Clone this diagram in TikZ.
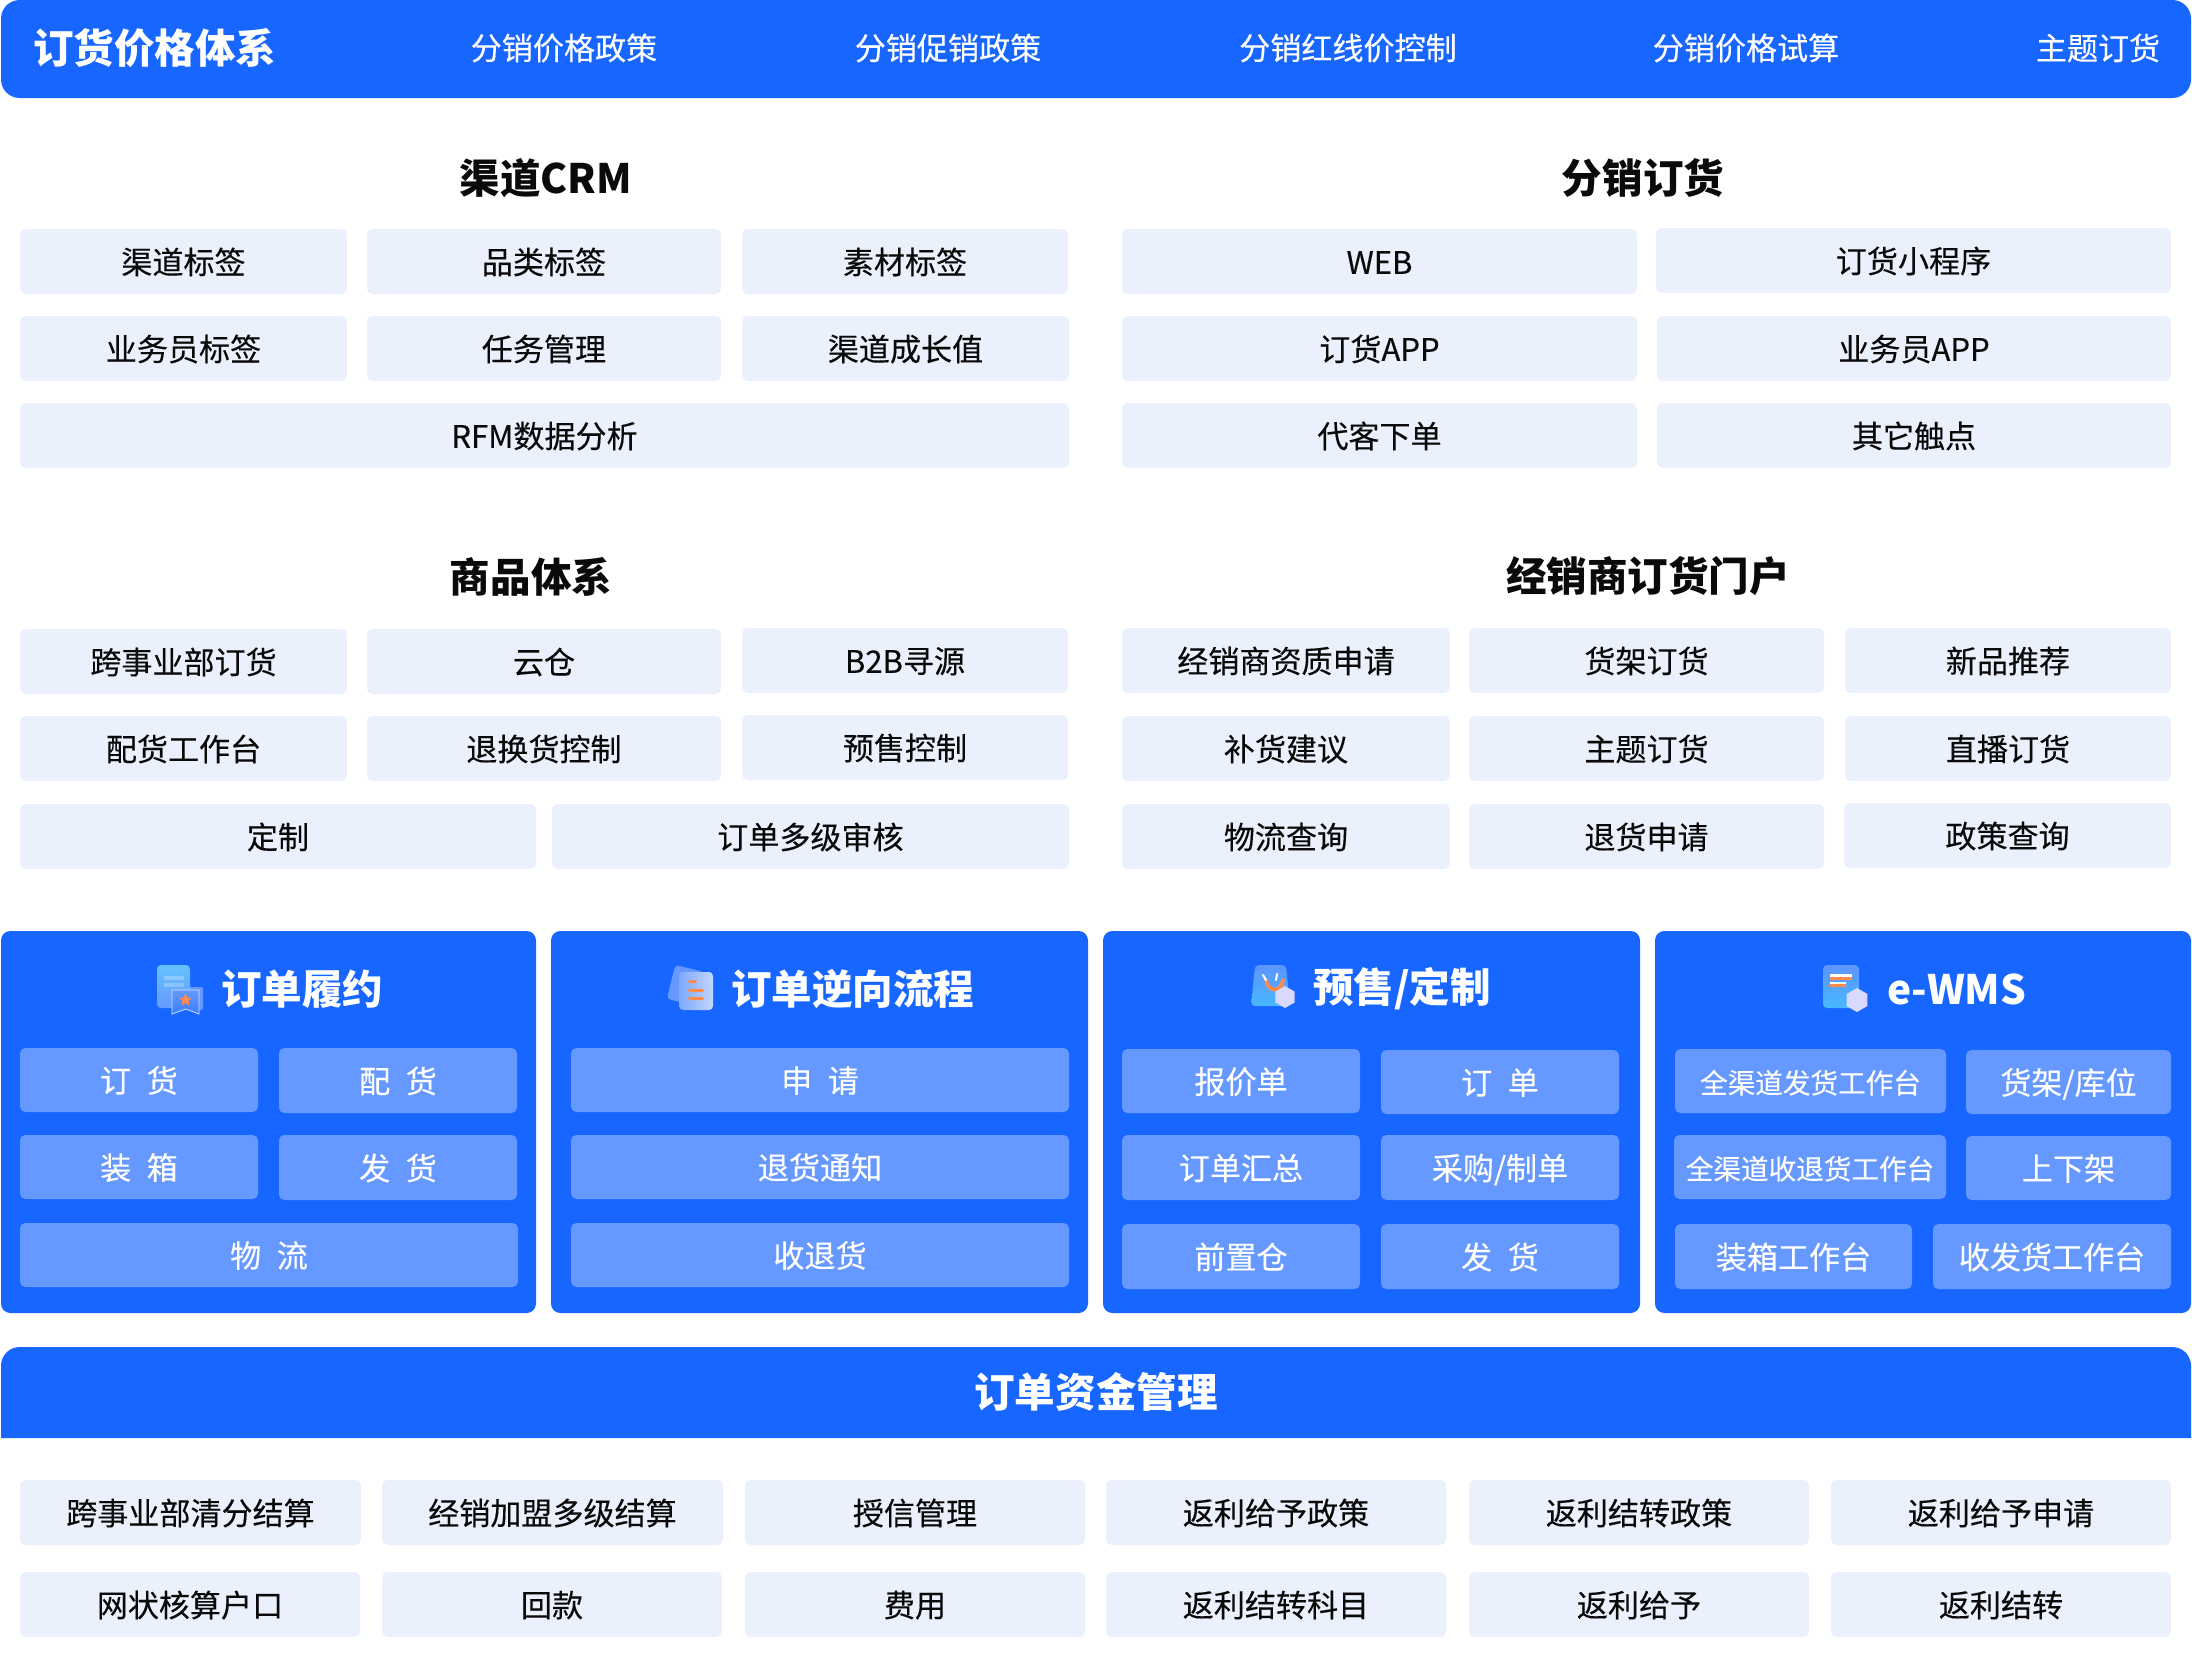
\documentclass[tikz,border=0pt]{standalone}
\usepackage{fontspec}
\setmainfont{Noto Sans CJK SC}
\newfontfamily\medfont{Noto Sans CJK SC}[FakeBold=0.25]
\usetikzlibrary{shapes.geometric}
\definecolor{brand}{HTML}{1766FF}
\definecolor{pale}{HTML}{EBF1FC}
\definecolor{mid}{HTML}{6699FF}
\definecolor{ink}{HTML}{0A0A0A}
\definecolor{orangeb}{HTML}{FF8A4C}
\tikzset{
  boxbase/.style={rectangle,rounded corners=4pt,inner sep=0pt,align=center,text height=21.5pt,text depth=3pt},
  palebox/.style={boxbase,fill=pale,text=ink,font=\medfont\fontsize{23.3}{28}\selectfont},
  midbox/.style={boxbase,fill=mid,text=white,font=\medfont\fontsize{23.3}{28}\selectfont},
  midsmall/.style={midbox,font=\medfont\fontsize{20.7}{26}\selectfont},
  sectitle/.style={inner sep=0pt,text=ink,font=\fontsize{30.4}{36}\selectfont\bfseries},
  paneltitle/.style={inner sep=0pt,anchor=west,text=white,font=\fontsize{30.4}{36}\selectfont\bfseries},
  toptext/.style={inner sep=0pt,text=white,font=\medfont\fontsize{23.3}{28}\selectfont},
  panel/.style={fill=brand,rounded corners=7pt},
}
\newcommand{\bx}[7]{\node[#1,minimum width={(#5-#3)*0.75pt},minimum height={(#6-#4)*0.75pt}] (#2) at ({(#3+#5)/2},{(#4+#6)/2}) {#7};}
\begin{document}
\begin{tikzpicture}[x=0.75pt,y=-0.75pt]
\useasboundingbox (0,0) rectangle (2192,1679);
% top bar
\fill[brand,rounded corners=14pt] (1,0) rectangle (2191,98);
\node[inner sep=0pt,anchor=west,text=white,font=\fontsize{30.4}{36}\selectfont\bfseries] (ttop) at (33,48) {订货价格体系};
\node[toptext] (t1) at (564,48) {分销价格政策};
\node[toptext] (t2) at (948,48) {分销促销政策};
\node[toptext] (t3) at (1348,48) {分销红线价控制};
\node[toptext] (t4) at (1746,48) {分销价格试算};
\node[toptext] (t5) at (2098,48) {主题订货};
% section titles
\node[sectitle] (s1) at (546,178) {渠道CRM};
\node[sectitle] (s2) at (1643,178) {分销订货};
\node[sectitle] (s3) at (531,576.5) {商品体系};
\node[sectitle] (s4) at (1648,576.5) {经销商订货门户};
% CRM
\bx{palebox}{a1}{20}{229}{347}{294}{渠道标签}
\bx{palebox}{a2}{367}{229}{721}{294}{品类标签}
\bx{palebox}{a3}{742}{229}{1068}{294}{素材标签}
\bx{palebox}{a4}{20}{316}{347}{381}{业务员标签}
\bx{palebox}{a5}{367}{316}{721}{381}{任务管理}
\bx{palebox}{a6}{742}{316}{1069}{381}{渠道成长值}
\bx{palebox}{a7}{20}{403}{1069}{468}{RFM数据分析}
% distribution
\bx{palebox}{b1}{1122}{229}{1637}{294}{WEB}
\bx{palebox}{b2}{1656}{228}{2171}{293}{订货小程序}
\bx{palebox}{b3}{1122}{316}{1637}{381}{订货APP}
\bx{palebox}{b4}{1657}{316}{2171}{381}{业务员APP}
\bx{palebox}{b5}{1122}{403}{1637}{468}{代客下单}
\bx{palebox}{b6}{1657}{403}{2171}{468}{其它触点}
% goods
\bx{palebox}{c1}{20}{629}{347}{694}{跨事业部订货}
\bx{palebox}{c2}{367}{629}{721}{694}{云仓}
\bx{palebox}{c3}{742}{628}{1068}{693}{B2B寻源}
\bx{palebox}{c4}{20}{716}{347}{781}{配货工作台}
\bx{palebox}{c5}{367}{716}{721}{781}{退换货控制}
\bx{palebox}{c6}{742}{715}{1068}{780}{预售控制}
\bx{palebox}{c7}{20}{804}{536}{869}{定制}
\bx{palebox}{c8}{552}{804}{1069}{869}{订单多级审核}
% dealer
\bx{palebox}{d1}{1122}{628}{1450}{693}{经销商资质申请}
\bx{palebox}{d2}{1469}{628}{1824}{693}{货架订货}
\bx{palebox}{d3}{1845}{628}{2171}{693}{新品推荐}
\bx{palebox}{d4}{1122}{716}{1450}{781}{补货建议}
\bx{palebox}{d5}{1469}{716}{1824}{781}{主题订货}
\bx{palebox}{d6}{1845}{716}{2171}{781}{直播订货}
\bx{palebox}{d7}{1122}{804}{1450}{869}{物流查询}
\bx{palebox}{d8}{1469}{804}{1824}{869}{退货申请}
\bx{palebox}{d9}{1844}{803}{2171}{868}{政策查询}
% panels
\fill[panel] (1,931) rectangle (536,1313);
\fill[panel] (551,931) rectangle (1088,1313);
\fill[panel] (1103,931) rectangle (1640,1313);
\fill[panel] (1655,931) rectangle (2191,1313);
% panel 1
\fill[mid,rounded corners=1.5pt] (180,987) rectangle (203,1010);
\shade[rounded corners=3pt,top color=cyan!60!blue!60,bottom color=mid] (157,965) rectangle (190,1008);
\fill[white,opacity=.25] (164,976) rectangle (184,979.5);
\fill[white,opacity=.25] (164,983) rectangle (184,986.5);
\shade[top color=mid,bottom color=brand!85!white,draw=white!70!mid,line width=.6pt] (172,990) -- (199,990) -- (199,1014) -- (186,1009) -- (172,1014) -- cycle;
\node[star,star points=5,star point ratio=2.2,fill=orangeb,inner sep=0pt,minimum size=10pt] (star1) at (185.5,1000) {};
\node[paneltitle] (p1) at (221,989) {订单履约};
\bx{midbox}{e1}{20}{1048}{258}{1112}{订\hspace{.5em}货}
\bx{midbox}{e2}{279}{1048}{517}{1113}{配\hspace{.5em}货}
\bx{midbox}{e3}{20}{1135}{258}{1199}{装\hspace{.5em}箱}
\bx{midbox}{e4}{279}{1135}{517}{1200}{发\hspace{.5em}货}
\bx{midbox}{e5}{20}{1223}{518}{1287}{物\hspace{.5em}流}
% panel 2
\fill[mid,rotate around={-14:(686,984)}] (671,968) [rounded corners=3pt] rectangle (701,1003);
\shade[rounded corners=3pt,left color=mid!85!white,right color=white!60!mid] (679,972) rectangle (713,1010);
\fill[orangeb,rounded corners=1pt] (688,980) rectangle (697,983);
\fill[orangeb,rounded corners=1pt] (688,989) rectangle (704,992);
\fill[orangeb,rounded corners=1pt] (688,997) rectangle (704,1000);
\node[paneltitle] (p2) at (731,989) {订单逆向流程};
\bx{midbox}{f1}{571}{1048}{1069}{1112}{申\hspace{.5em}请}
\bx{midbox}{f2}{571}{1135}{1069}{1199}{退货通知}
\bx{midbox}{f3}{571}{1223}{1069}{1287}{收退货}
% panel 3
\shade[rounded corners=3pt,top color=mid!90!brand,bottom color=cyan!30!mid] (1255,965) -- (1286,965) -- (1290,1006) -- (1251,1006) -- cycle;
\draw[orangeb,line width=2.8pt] (1266,979) .. controls (1267,993) and (1282,993) .. (1283,979);
\draw[white,line width=1.6pt,line cap=round] (1263,975) -- (1266,980);
\draw[white,line width=1.6pt,line cap=round] (1277,974) -- (1276,980);
\node[regular polygon,regular polygon sides=6,rotate=30,fill=blue!15!white,inner sep=0pt,minimum size=16.5pt] (hx3) at (1285,997) {};
\node[paneltitle] (p3) at (1313,989) {预售/定制};
\bx{midbox}{g1}{1122}{1049}{1360}{1113}{报价单}
\bx{midbox}{g2}{1381}{1050}{1619}{1114}{订\hspace{.5em}单}
\bx{midbox}{g3}{1122}{1135}{1360}{1200}{订单汇总}
\bx{midbox}{g4}{1381}{1135}{1619}{1200}{采购/制单}
\bx{midbox}{g5}{1122}{1224}{1360}{1289}{前置仓}
\bx{midbox}{g6}{1381}{1224}{1619}{1289}{发\hspace{.5em}货}
% panel 4
\shade[rounded corners=3pt,top color=mid!90!brand,bottom color=cyan!30!mid] (1823,965) rectangle (1859,1008);
\fill[white] (1830,974) rectangle (1852,976.5);
\fill[orangeb] (1830,977) rectangle (1852,979.5);
\fill[white] (1830,982) rectangle (1846,984);
\fill[orangeb] (1830,984) rectangle (1846,986.5);
\node[regular polygon,regular polygon sides=6,rotate=30,fill=blue!15!white,inner sep=0pt,minimum size=18pt] (hx4) at (1857,1000) {};
\node[paneltitle] (p4) at (1887,989) {e-WMS};
\bx{midsmall}{h1}{1675}{1049}{1946}{1113}{全渠道发货工作台}
\bx{midbox}{h2}{1966}{1050}{2171}{1114}{货架/库位}
\bx{midsmall}{h3}{1674}{1135}{1946}{1199}{全渠道收退货工作台}
\bx{midbox}{h4}{1966}{1136}{2171}{1200}{上下架}
\bx{midbox}{h5}{1675}{1224}{1912}{1289}{装箱工作台}
\bx{midbox}{h6}{1933}{1224}{2171}{1289}{收发货工作台}
% bottom bar
\fill[brand] (1,1438) -- (1,1380) [rounded corners=14pt] -- (1,1347) -- (2191,1347) [sharp corners] -- (2191,1438) -- cycle;
\node[inner sep=0pt,text=white,font=\fontsize{30.4}{36}\selectfont\bfseries] (money) at (1096,1392) {订单资金管理};
% bottom grid
\bx{palebox}{k1}{20}{1480}{361}{1545}{跨事业部清分结算}
\bx{palebox}{k2}{382}{1480}{723}{1545}{经销加盟多级结算}
\bx{palebox}{k3}{745}{1480}{1085}{1545}{授信管理}
\bx{palebox}{k4}{1106}{1480}{1446}{1545}{返利给予政策}
\bx{palebox}{k5}{1469}{1480}{1809}{1545}{返利结转政策}
\bx{palebox}{k6}{1831}{1480}{2171}{1545}{返利给予申请}
\bx{palebox}{k7}{20}{1572}{360}{1637}{网状核算户口}
\bx{palebox}{k8}{382}{1572}{722}{1637}{回款}
\bx{palebox}{k9}{745}{1572}{1085}{1637}{费用}
\bx{palebox}{k10}{1106}{1572}{1446}{1637}{返利结转科目}
\bx{palebox}{k11}{1469}{1572}{1809}{1637}{返利给予}
\bx{palebox}{k12}{1831}{1572}{2171}{1637}{返利结转}
\end{tikzpicture}
\end{document}
